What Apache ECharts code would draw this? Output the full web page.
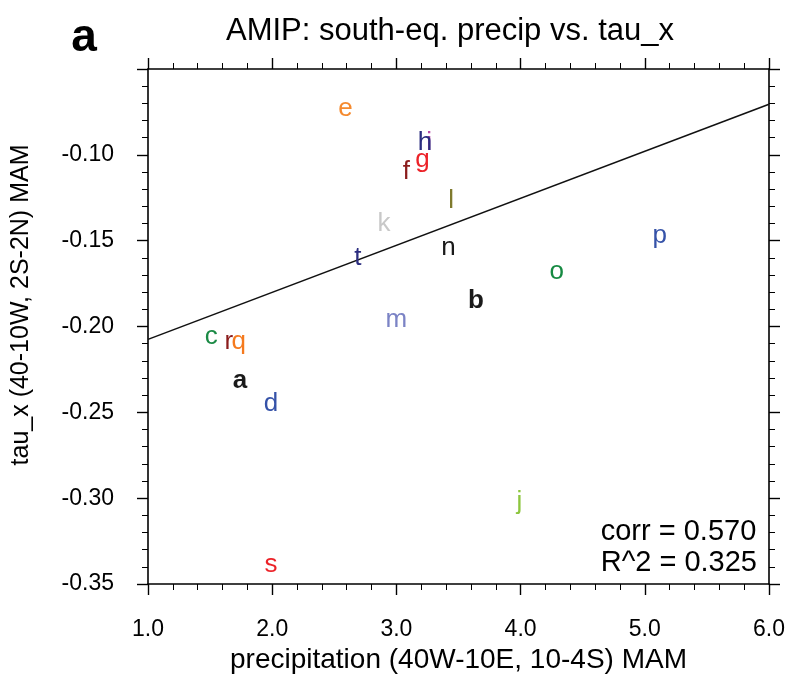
<!DOCTYPE html>
<html>
<head>
<meta charset="utf-8">
<script src="https://cdn.jsdelivr.net/npm/echarts@6/dist/echarts.min.js"></script>
<style>
  html, body { margin: 0; padding: 0; background: #fff; }
  #main { width: 790px; height: 679px; }
</style>
</head>
<body>
<div id="main"></div>
<script>
// model letters and their values (precip, tau_x)
var modelLetters = ['a','b','c','d','e','f','g','h','i','j','k','l','m','n','o','p','q','r','s','t'];
var precipVals = [1.74, 3.64, 1.51, 1.99, 2.59, 3.08, 3.21, 3.23, 3.264, 3.99, 2.90, 3.44, 3.00, 3.42, 4.29, 5.12, 1.73, 1.65, 1.99, 2.69];
var tauxVals = [-0.229, -0.182, -0.203, -0.242, -0.070, -0.107, -0.100, -0.090, -0.090, -0.299, -0.137, -0.124, -0.193, -0.151, -0.165, -0.144, -0.206, -0.206, -0.336, -0.157];
var boldLetters = ['a', 'b'];
// 'i' sits under 'h' in the original
var underLetters = ['i'];
var letterColors = {
	a: '#1a1a1a', b: '#1a1a1a', c: '#1b8a45', d: '#3552a8', e: '#f58a2e',
	f: '#8b1c1c', g: '#ec2228', h: '#2b2d7f', i: '#b84aa8', j: '#8dc63f',
	k: '#c8c8c8', l: '#7f7a2e', m: '#7b83c5', n: '#1a1a1a', o: '#168a42',
	p: '#3552a8', q: '#f57a1e', r: '#8b1c1c', s: '#ec2228', t: '#2b2d7f'
};

// regression line end points
var fitX = [1.0, 6.0];
var fitY = [-0.2075, -0.0705];

var corrText = 'corr = 0.570';
var r2Text = 'R^2 = 0.325';

var xTicks = [1, 6, 1];      // min, max, step
var yTicks = [-0.35, -0.05, 0.05];

var FONT = '"Liberation Sans", Arial, Helvetica, sans-serif';

var chart = echarts.init(document.getElementById('main'));

var pts = modelLetters.map(function (l, i) {
	return {
		name: l,
		value: [precipVals[i], tauxVals[i]],
		label: {
			color: letterColors[l],
			fontWeight: boldLetters.indexOf(l) >= 0 ? 'bold' : 'normal'
		}
	};
});

function letterSeries(data, z) {
	return {
		type: 'scatter',
		xAxisIndex: 0, yAxisIndex: 0,
		symbolSize: 0,
		itemStyle: { opacity: 1 },
		data: data,
		label: {
			show: true,
			position: 'inside',
			offset: [0, 5],
			opacity: 1,
			formatter: '{b}',
			fontSize: 26,
			fontFamily: FONT
		},
		emphasis: { disabled: true },
		z: z
	};
}

var axisLineStyle = { color: '#000', width: 1.6 };

function xAxisOf(pos, showLabels) {
	return {
		type: 'value',
		position: pos,
		min: xTicks[0], max: xTicks[1], interval: xTicks[2],
		axisLine: { show: true, onZero: false, lineStyle: axisLineStyle },
		axisTick: { show: true, inside: false, length: 11, lineStyle: { color: '#000', width: 1.4 } },
		minorTick: { show: true, splitNumber: 5, length: 6, lineStyle: { color: '#000', width: 1 } },
		splitLine: { show: false },
		axisLabel: {
			show: showLabels, margin: 34, color: '#000', fontSize: 23, fontFamily: FONT,
			formatter: function (v) { return v.toFixed(1); }
		},
		name: showLabels ? 'precipitation (40W-10E, 10-4S) MAM' : '',
		nameLocation: 'middle',
		nameGap: 62,
		nameTextStyle: { color: '#000', fontSize: 28, fontFamily: FONT }
	};
}

function yAxisOf(pos, showLabels) {
	return {
		type: 'value',
		position: pos,
		min: yTicks[0], max: yTicks[1], interval: yTicks[2],
		axisLine: { show: true, onZero: false, lineStyle: axisLineStyle },
		axisTick: { show: true, inside: false, length: 11, lineStyle: { color: '#000', width: 1.4 } },
		minorTick: { show: true, splitNumber: 5, length: 6, lineStyle: { color: '#000', width: 1 } },
		splitLine: { show: false },
		axisLabel: {
			show: showLabels, margin: 34, color: '#000', fontSize: 23, fontFamily: FONT,
			showMaxLabel: false,
			formatter: function (v) { return v.toFixed(2); }
		}
	};
}

var option = {
	backgroundColor: '#fff',
	animation: false,
	title: [
		{
			text: 'AMIP: south-eq. precip vs. tau_x',
			left: 445, top: 11, textAlign: 'center',
			textStyle: { color: '#000', fontSize: 31, fontWeight: 'normal', fontFamily: FONT }
		}
	],
	grid: { left: 148, right: 21, top: 69, bottom: 92 },
	xAxis: [xAxisOf('bottom', true), xAxisOf('top', false)],
	yAxis: [yAxisOf('left', true), yAxisOf('right', false)],
	graphic: [
		{
			type: 'text', x: 84, y: 38,
			style: { text: 'a', fill: '#000', font: 'bold 46px ' + FONT, align: 'center', verticalAlign: 'middle' }
		},
		{
			type: 'text', x: 21, y: 305, rotation: Math.PI / 2,
			style: { text: 'tau_x (40-10W, 2S-2N) MAM', fill: '#000', font: '25px ' + FONT, align: 'center', verticalAlign: 'middle' }
		},
		{
			type: 'text', right: 33, top: 516,
			style: { text: corrText + '\n' + r2Text, fill: '#000', font: '29px ' + FONT, align: 'right', lineHeight: 31 }
		}
	],
	series: [
		{
			type: 'line',
			xAxisIndex: 0, yAxisIndex: 0,
			data: fitX.map(function (x, i) { return [x, fitY[i]]; }),
			showSymbol: false,
			symbol: 'none',
			lineStyle: { color: '#111', width: 1.6 },
			z: 1
		},
		letterSeries(pts.filter(function (p) { return underLetters.indexOf(p.name) >= 0; }), 2),
		letterSeries(pts.filter(function (p) { return underLetters.indexOf(p.name) < 0; }), 3)
	]
};

chart.setOption(option);
</script>
</body>
</html>
